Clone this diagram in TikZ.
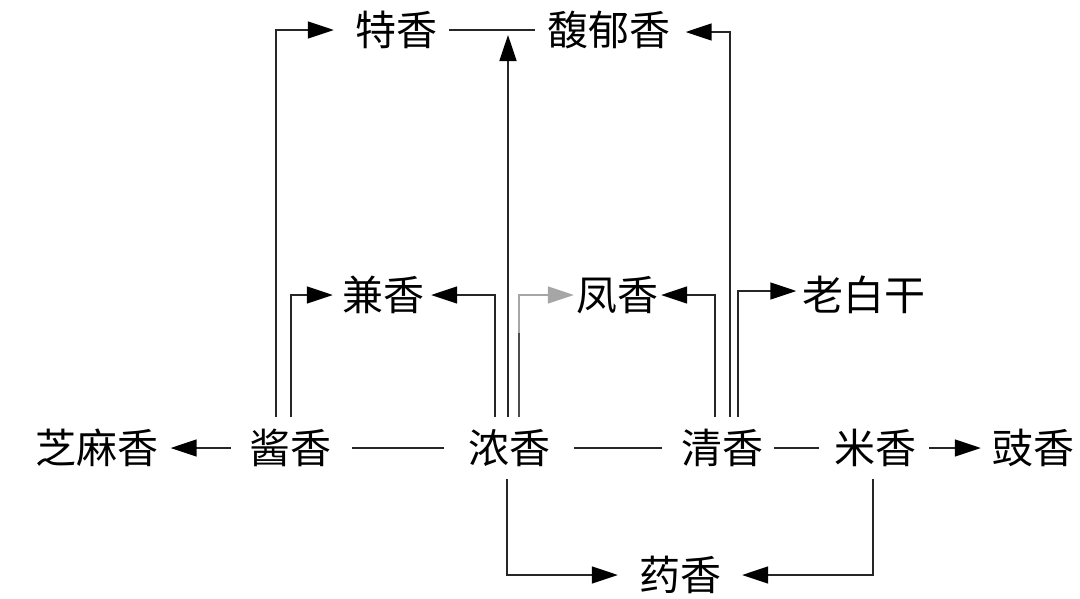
\documentclass[tikz,border=0pt]{standalone}
\usepackage{fontspec}
\newfontfamily\cjk{Noto Sans CJK SC}
\usetikzlibrary{arrows.meta}
\begin{document}
\begin{tikzpicture}[x=1pt,y=-1pt,
  lbl/.style={font=\cjk\fontsize{41}{41}\selectfont, inner xsep=0pt, inner ysep=0pt,
    text height=36pt, text depth=5pt, minimum height=62pt, anchor=center},
  conn/.style={draw=black!85, line width=1.6pt},
  arr/.style={conn, -{Triangle[length=26pt,width=17pt,color=black]}},
  grayarr/.style={draw=black!35, line width=1.6pt, -{Triangle[length=26pt,width=17pt]}}
]
\useasboundingbox (0,0) rectangle (1080,598);
\fill[white] (0,0) rectangle (1080,598);

% nodes
\node[lbl] (te)    at (396,30)  {特香};
\node[lbl] (fu)    at (609,30)  {馥郁香};
\node[lbl] (jian)  at (383,295) {兼香};
\node[lbl] (feng)  at (617,295) {凤香};
\node[lbl] (lao)   at (864,295) {老白干};
\node[lbl] (zhima) at (97,448)  {芝麻香};
\node[lbl] (jiang) at (290,448) {酱香};
\node[lbl] (nong)  at (509,448) {浓香};
\node[lbl] (qing)  at (722,448) {清香};
\node[lbl] (mi)    at (875,448) {米香};
\node[lbl] (chi)   at (1033,448){豉香};
\node[lbl] (yao)   at (680,575) {药香};

% plain lines
\draw[conn, shorten <=12pt, shorten >=12pt] (te) -- (fu);
\draw[conn, shorten <=21pt, shorten >=24pt] (jiang) -- (nong);
\draw[conn, shorten <=24pt, shorten >=19pt] (nong) -- (qing);
\draw[conn, shorten <=11pt, shorten >=15pt] (qing) -- (mi);

% horizontal arrows
\draw[arr, shorten <=18pt, shorten >=12pt] (jiang) -- (zhima);
\draw[arr, shorten <=13pt, shorten >=11pt] (mi) -- (chi);

% from 酱香
\draw[arr, shorten >=21pt] ([xshift=-14pt]jiang.north) |- (te.west);
\draw[arr, shorten >=9pt]  ([xshift=1pt]jiang.north) |- (jian.west);

% from 浓香
\draw[arr, shorten >=7pt] ([xshift=-14pt]nong.north) |- (jian.east);
\draw[arr, shorten >=5pt] ([xshift=-1pt]nong.north) -- ([xshift=-1pt]nong.north |- te.center);
\draw[grayarr, shorten >=2pt] ([xshift=10pt]nong.north) |- (feng.west);
\draw[conn, draw=black!70] ([xshift=10pt]nong.north) -- ++(0,-84);
\draw[arr, shorten >=21pt] ([xshift=-2pt]nong.south) |- (yao.west);

% from 清香
\draw[arr, shorten >=3pt]  ([xshift=-7pt]qing.north) |- (feng.east);
\draw[arr, shorten >=15pt] ([xshift=8pt]qing.north) |- ([yshift=-2pt]fu.east);
\draw[arr, shorten >=6pt]  ([xshift=16pt]qing.north) |- ([yshift=4pt]lao.west);

% from 米香
\draw[arr, shorten >=21pt] ([xshift=-2pt]mi.south) |- (yao.east);
\end{tikzpicture}
\end{document}
